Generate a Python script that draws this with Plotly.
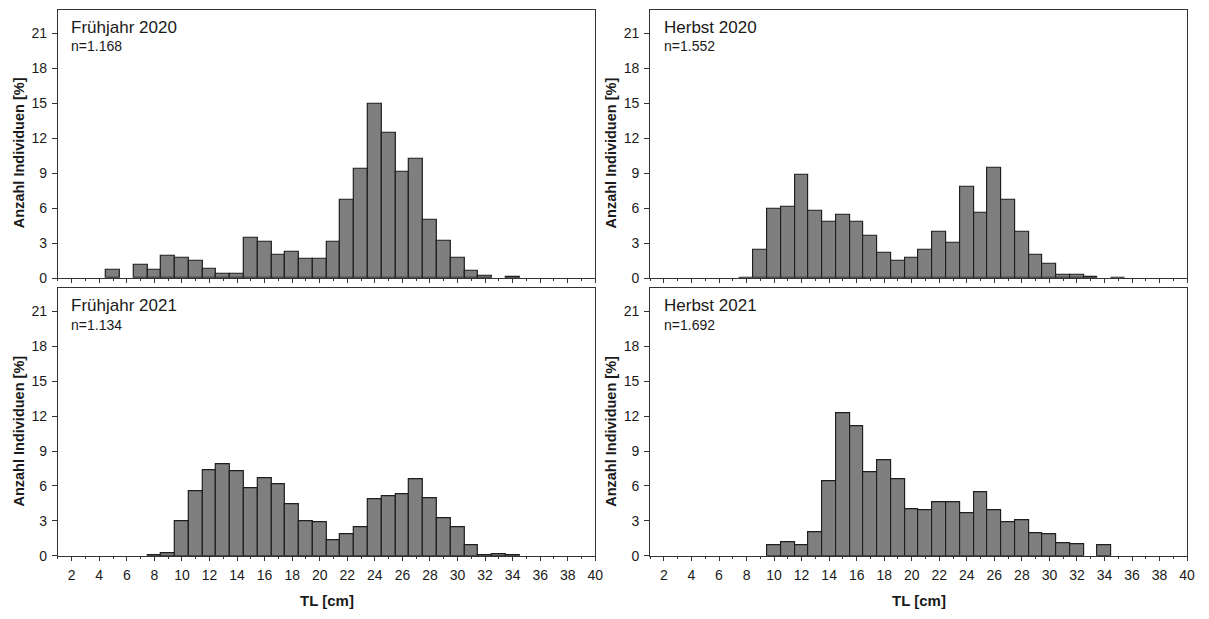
import plotly.graph_objects as go

# Length classes (TL, cm) – bar centres
tl_classes = list(range(4, 36))

# Percent of individuals per length class; None = empty class
fruehjahr_2020 = [None, 0.76, None, 1.15, 0.76, 1.92, 1.72, 1.47, 0.85, 0.40, 0.40, 3.47, 3.13,
                  1.98, 2.23, 1.64, 1.64, 3.13, 6.72, 9.37, 14.96, 12.45, 9.12, 10.22, 4.97,
                  3.25, 1.72, 0.68, 0.23, None, 0.14, None]
herbst_2020 = [None, None, None, None, 0.08, 2.40, 5.99, 6.10, 8.85, 5.77, 4.80, 5.45, 4.80,
               3.65, 2.20, 1.47, 1.78, 2.46, 3.99, 3.05, 7.86, 5.62, 9.44, 6.70, 4.01, 2.01,
               1.27, 0.34, 0.34, 0.17, None, 0.08]
fruehjahr_2021 = [None, None, None, None, 0.06, 0.23, 2.95, 5.56, 7.32, 7.86, 7.23, 5.81, 6.69,
                  6.18, 4.45, 2.95, 2.84, 1.30, 1.82, 2.44, 4.85, 5.08, 5.33, 6.61, 4.91, 3.26,
                  2.44, 0.94, 0.03, 0.11, 0.06, None]
herbst_2021 = [None, None, None, None, None, None, 0.91, 1.13, 0.91, 2.01, 6.40, 12.27, 11.11,
               7.20, 8.19, 6.57, 3.97, 3.94, 4.59, 4.59, 3.66, 5.47, 3.88, 2.92, 3.09, 1.96,
               1.87, 1.05, 0.99, None, 0.91, None]

panel_titles = ["Frühjahr 2020", "Herbst 2020", "Frühjahr 2021", "Herbst 2021"]
panel_n = ["n=1.168", "n=1.552", "n=1.134", "n=1.692"]
panel_values = [fruehjahr_2020, herbst_2020, fruehjahr_2021, herbst_2021]

y_ticks = [0, 3, 6, 9, 12, 15, 18, 21]
x_ticks = list(range(2, 41, 2))

W, H = 1209, 619
FONT = "Liberation Sans, Arial, sans-serif"
TXT = "#1a1a1a"
LINE = "#333333"

# panel pixel boxes: (left, right, top, bottom)
boxes = [
    (58.3, 599.3, 10, 282),
    (654.5, 1195, 10, 282),
    (58.3, 599.3, 292, 563),
    (654.5, 1195, 292, 563),
]

fig = go.Figure()
layout = dict(
    width=W, height=H,
    margin=dict(l=0, r=0, t=0, b=0),
    paper_bgcolor="white", plot_bgcolor="white",
    showlegend=False, bargap=0,
    font=dict(family=FONT, size=14, color=TXT),
)
annotations = []

for i, (vals, title, n, box) in enumerate(zip(panel_values, panel_titles, panel_n, boxes)):
    k = "" if i == 0 else str(i + 1)
    xa, ya = "x" + k, "y" + k
    l, r, t, b = box
    fig.add_trace(go.Bar(
        x=tl_classes, y=vals, width=1,
        marker=dict(color="#7f7f7f", line=dict(color="#1e1e1e", width=1.2)),
        xaxis=xa, yaxis=ya, hoverinfo="x+y",
    ))
    bottom_row = i >= 2
    layout["xaxis" + k] = dict(
        domain=[l / W, r / W], anchor=ya, range=[1, 40],
        tickmode="array", tickvals=x_ticks, ticktext=[str(v) for v in x_ticks],
        showticklabels=bottom_row, ticks="outside", ticklen=4, tickwidth=1, tickcolor=LINE,
        ticklabelstandoff=2,
        minor=dict(dtick=1, tick0=1, ticks="outside", ticklen=2, tickcolor=LINE, showgrid=False),
        showline=True, linecolor=LINE, linewidth=1, mirror=True,
        showgrid=False, zeroline=False, fixedrange=True,
        tickfont=dict(family=FONT, size=14, color=TXT),
    )
    layout["yaxis" + k] = dict(
        domain=[1 - b / H, 1 - t / H], anchor=xa, range=[0, 23],
        tickmode="array", tickvals=y_ticks, ticktext=[str(v) for v in y_ticks],
        ticks="outside", ticklen=5, tickwidth=1, tickcolor=LINE,
        ticklabelstandoff=2,
        showline=True, linecolor=LINE, linewidth=1, mirror=True,
        showgrid=False, zeroline=False, fixedrange=True,
        tickfont=dict(family=FONT, size=14, color=TXT),
    )
    annotations.append(dict(
        text=title, xref=xa + " domain", yref=ya + " domain",
        x=(11.5) / (r - l), y=1 - 18 / (b - t), xanchor="left", yanchor="middle",
        showarrow=False, font=dict(family=FONT, size=17, color=TXT),
    ))
    annotations.append(dict(
        text=n, xref=xa + " domain", yref=ya + " domain",
        x=(11.5) / (r - l), y=1 - 37 / (b - t), xanchor="left", yanchor="middle",
        showarrow=False, font=dict(family=FONT, size=14, color=TXT),
    ))
    # y-axis title
    annotations.append(dict(
        text="<b>Anzahl Individuen [%]</b>", xref="paper", yref="paper",
        x=(l - 39) / W, y=1 - (t + 145) / H, xanchor="center", yanchor="middle",
        textangle=-90, showarrow=False, font=dict(family=FONT, size=14.5, color=TXT),
    ))
    if bottom_row:
        annotations.append(dict(
            text="<b>TL [cm]</b>", xref="paper", yref="paper",
            x=((l + r) / 2) / W, y=0, xanchor="center", yanchor="bottom", yshift=0,
            showarrow=False, font=dict(family=FONT, size=15, color=TXT),
        ))

layout["annotations"] = annotations
fig.update_layout(**layout)
fig.write_html("out.html")
